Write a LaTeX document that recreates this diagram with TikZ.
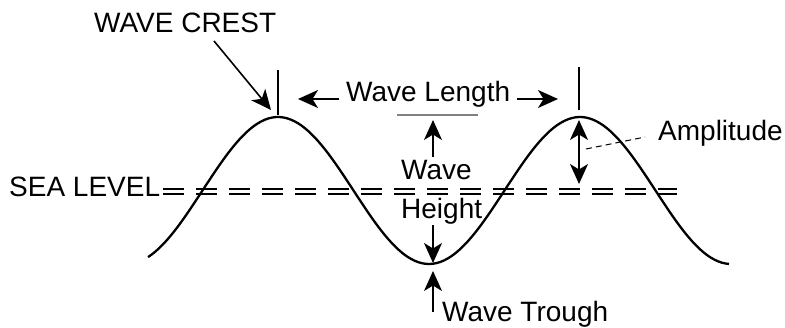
\documentclass[tikz,border=0pt]{standalone}
\usepackage{fontspec}
\setmainfont{Liberation Sans}
\usetikzlibrary{arrows.meta}
\begin{document}
\begin{tikzpicture}[x=1pt,y=-1pt,
  lbl/.style={inner sep=0pt, anchor=base west, font=\fontsize{28}{30}\selectfont},
  arr/.style={line width=1.6pt, -{Stealth[length=20pt,width=18pt,inset=5.5pt]}},
  dblarr/.style={line width=1.6pt, {Stealth[length=20pt,width=18pt,inset=5.5pt]}-{Stealth[length=20pt,width=18pt,inset=5.5pt]}},
  wavecurve/.style={line width=2.3pt},
  sea/.style={line width=2.2pt, dash pattern=on 21pt off 12pt},
  tickline/.style={line width=1.8pt},
  leader/.style={line width=1pt, dash pattern=on 6pt off 4pt},
  guide/.style={line width=1.1pt, gray}]
\useasboundingbox (0,0) rectangle (785,328);
% wave
\draw[wavecurve] plot[domain=148:729, samples=160, smooth] (\x, {190.5-73.5*cos(1.192053*(\x-278))});
% sea level
\coordinate (sA) at (163,189.3);
\coordinate (sB) at (677,189.3);
\coordinate (sC) at (163,194.2);
\coordinate (sD) at (677,194.2);
\draw[sea] (sA) -- (sB);
\draw[sea] (sC) -- (sD);
% labels
\node[lbl] (crest) at (94,33) {WAVE CREST};
\node[lbl] (wl) at (346,102) {Wave Length};
\node[lbl] (wv) at (401,180) {Wave};
\node[lbl] (ht) at (401,219) {Height};
\node[lbl] (sl) at (9,197) {SEA LEVEL};
\node[lbl] (amp) at (658,141) {Amplitude};
\node[lbl] (tr) at (442,322) {Wave Trough};
% crest ticks
\coordinate (c1top) at (278,70);
\coordinate (c1bot) at (278,115);
\coordinate (c2top) at (579,67);
\coordinate (c2bot) at (579,110);
\draw[tickline] (c1top) -- (c1bot);
\draw[tickline] (c2top) -- (c2bot);
% crest arrow
\coordinate (crA) at (214,41);
\coordinate (crB) at (271,110);
\draw[arr] (crA) -- (crB);
% wave length arrows
\coordinate (wlL) at (339,99);
\coordinate (wlLt) at (298,99);
\coordinate (wlR) at (517,99);
\coordinate (wlRt) at (558,99);
\draw[arr] (wlL) -- (wlLt);
\draw[arr] (wlR) -- (wlRt);
% wave height
\coordinate (gA) at (397,115);
\coordinate (gB) at (478,115);
\draw[guide] (gA) -- (gB);
\coordinate (hU0) at (433,157);
\coordinate (hU1) at (433,120);
\coordinate (hD0) at (433,225);
\coordinate (hD1) at (433,263);
\draw[arr] (hU0) -- (hU1);
\draw[arr] (hD0) -- (hD1);
% trough arrow
\coordinate (tA) at (433,312);
\coordinate (tB) at (433,271);
\draw[arr] (tA) -- (tB);
% amplitude
\coordinate (aT) at (579,120);
\coordinate (aB) at (579,184);
\draw[dblarr] (aT) -- (aB);
\coordinate (ldA) at (586,149);
\coordinate (ldB) at (645,137);
\draw[leader] (ldA) -- (ldB);
\end{tikzpicture}
\end{document}
